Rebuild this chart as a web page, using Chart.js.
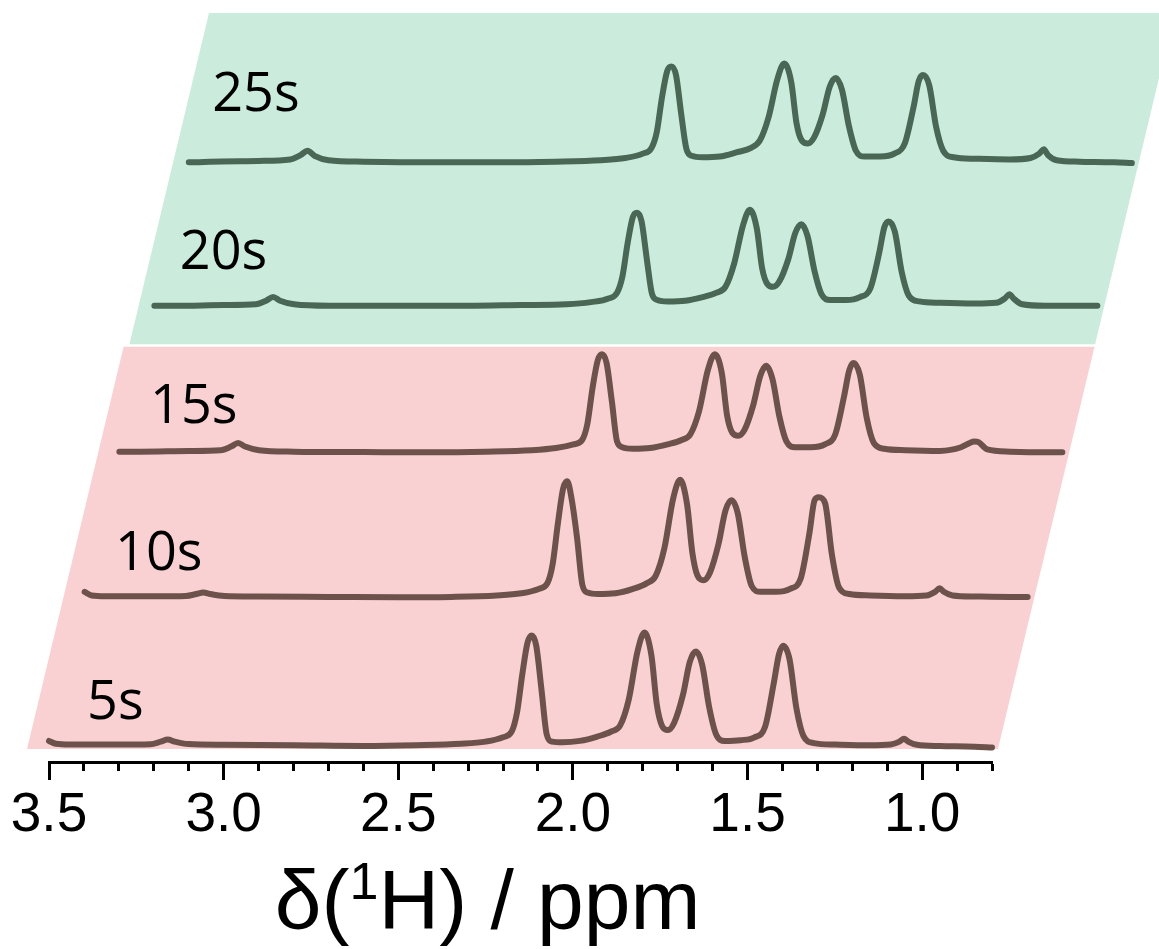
<!DOCTYPE html>
<html>
<head>
<meta charset="utf-8">
<script src="https://cdn.jsdelivr.net/npm/chart.js@4.4.1/dist/chart.umd.min.js"></script>
<style>
  html, body { margin: 0; padding: 0; background: #fff; }
  #wrap { width: 1159px; height: 949px; }
</style>
</head>
<body>
<div id="wrap"><canvas id="nmrChart" width="1159" height="949"></canvas></div>
<script>
// chemical shift grid (ppm), same for every spectrum
var ppm = [3.50, 3.48, 3.44, 3.30, 3.21, 3.18, 3.16, 3.14, 3.10, 3.00,
           2.80, 2.60, 2.45, 2.32, 2.25, 2.20, 2.175, 2.16, 2.145, 2.13,
           2.118, 2.105, 2.09, 2.075, 2.06, 2.03, 1.98, 1.93, 1.89, 1.865,
           1.84, 1.815, 1.795, 1.775, 1.76, 1.745, 1.728, 1.71, 1.685, 1.665,
           1.648, 1.63, 1.61, 1.59, 1.565, 1.52, 1.48, 1.45, 1.425, 1.41,
           1.398, 1.38, 1.36, 1.34, 1.31, 1.25, 1.15, 1.09, 1.065, 1.052,
           1.04, 1.015, 0.95, 0.85, 0.80];

// intensities (a.u.)
var s5 = [0.025, 0.005, 0.0, 0.0, 0.002, 0.02, 0.035, 0.02, 0.003, -0.002,
          -0.005, -0.01, -0.005, 0.005, 0.02, 0.05, 0.09, 0.22, 0.48, 0.70,
          0.75, 0.68, 0.38, 0.07, 0.02, 0.015, 0.025, 0.055, 0.09, 0.13,
          0.31, 0.64, 0.77, 0.61, 0.28, 0.13, 0.10, 0.15, 0.34, 0.57,
          0.64, 0.55, 0.26, 0.07, 0.025, 0.03, 0.05, 0.12, 0.42, 0.62,
          0.68, 0.59, 0.25, 0.06, 0.01, 0.0, -0.005, 0.0, 0.02, 0.04,
          0.02, -0.002, -0.01, -0.015, -0.02];
var s10 = [0.03, 0.005, 0.0, 0.0, 0.002, 0.015, 0.025, 0.015, 0.002, -0.002,
           -0.005, -0.008, -0.005, 0.005, 0.02, 0.05, 0.09, 0.22, 0.50, 0.74,
           0.79, 0.66, 0.40, 0.08, 0.025, 0.015, 0.02, 0.05, 0.09, 0.14,
           0.33, 0.67, 0.80, 0.63, 0.30, 0.14, 0.11, 0.16, 0.36, 0.59,
           0.66, 0.57, 0.27, 0.07, 0.03, 0.03, 0.05, 0.12, 0.43, 0.66,
           0.68, 0.64, 0.28, 0.06, 0.015, 0.005, 0.0, 0.005, 0.03, 0.055,
           0.03, 0.005, -0.002, -0.005, -0.005];
var s15 = [0.0, 0.0, 0.0, 0.005, 0.01, 0.035, 0.06, 0.035, 0.01, 0.0,
           -0.003, -0.005, 0.0, 0.01, 0.025, 0.05, 0.08, 0.19, 0.44, 0.63,
           0.67, 0.61, 0.35, 0.07, 0.03, 0.02, 0.025, 0.05, 0.08, 0.12,
           0.28, 0.56, 0.67, 0.54, 0.25, 0.13, 0.11, 0.15, 0.32, 0.52,
           0.59, 0.50, 0.24, 0.07, 0.03, 0.03, 0.05, 0.12, 0.38, 0.56,
           0.61, 0.53, 0.23, 0.06, 0.02, 0.01, 0.005, 0.03, 0.06, 0.07,
           0.065, 0.015, 0.0, -0.005, -0.005];
var s20 = [0.0, 0.0, 0.0, 0.005, 0.01, 0.035, 0.06, 0.035, 0.01, 0.0,
           0.0, 0.0, 0.005, 0.01, 0.025, 0.05, 0.09, 0.20, 0.43, 0.61,
           0.64, 0.58, 0.32, 0.08, 0.04, 0.03, 0.035, 0.06, 0.09, 0.13,
           0.29, 0.55, 0.66, 0.53, 0.26, 0.15, 0.13, 0.17, 0.32, 0.50,
           0.56, 0.48, 0.24, 0.08, 0.04, 0.04, 0.06, 0.12, 0.36, 0.54,
           0.58, 0.51, 0.23, 0.07, 0.03, 0.02, 0.015, 0.02, 0.05, 0.08,
           0.05, 0.01, 0.0, 0.0, 0.0];
var s25 = [0.0, 0.0, 0.005, 0.01, 0.02, 0.05, 0.08, 0.045, 0.015, 0.005,
           0.0, 0.0, 0.005, 0.015, 0.03, 0.06, 0.10, 0.21, 0.45, 0.63,
           0.66, 0.60, 0.33, 0.09, 0.045, 0.035, 0.04, 0.07, 0.10, 0.15,
           0.31, 0.57, 0.68, 0.55, 0.27, 0.15, 0.13, 0.17, 0.33, 0.52,
           0.58, 0.50, 0.25, 0.08, 0.04, 0.04, 0.06, 0.13, 0.38, 0.56,
           0.60, 0.53, 0.24, 0.08, 0.035, 0.025, 0.02, 0.03, 0.06, 0.09,
           0.05, 0.015, 0.005, 0.0, -0.005];

var traceLabels = ['5s', '10s', '15s', '20s', '25s'];
var majorTicks = [3.5, 3.0, 2.5, 2.0, 1.5, 1.0];

var spectra = [s5, s10, s15, s20, s25];

// stacking: each trace lifted by 'stack' units and slid 0.1 ppm per unit
var stack = [0, 1.02, 2.014, 3.017, 4.003];
var SKEW = 0.1;
var lineColors = ['#6c524b', '#6c524b', '#6c524b', '#4a6654', '#4a6654'];
var labelAt = [[3.391, 0.175], [3.413, 0.182], [3.412, 0.195], [3.427, 0.254], [3.433, 0.35]];

var panels = [
    {color: '#f9d1d2', y0: -0.03, y1: 2.736, left: 3.56, right: 0.78},
    {color: '#cbecdc', y0: 2.752, y1: 5.03, left: 3.545, right: 0.78}
];

var datasets = spectra.map(function (s, i) {
    return {
        label: traceLabels[i],
        data: ppm.map(function (p, j) {
            return {x: p - SKEW * stack[i], y: s[j] + stack[i]};
        }),
        borderColor: lineColors[i],
        borderWidth: 6,
        borderCapStyle: 'round',
        borderJoinStyle: 'round',
        pointRadius: 0,
        cubicInterpolationMode: 'monotone',
        clip: false
    };
});

// slanted coloured panels behind the traces
var panelPlugin = {
    id: 'panels',
    beforeDatasetsDraw: function (chart) {
        var c = chart.ctx, xs = chart.scales.x, ys = chart.scales.y;
        panels.forEach(function (p) {
            c.save();
            c.fillStyle = p.color;
            c.beginPath();
            c.moveTo(xs.getPixelForValue(p.left - SKEW * p.y0), ys.getPixelForValue(p.y0));
            c.lineTo(xs.getPixelForValue(p.right - SKEW * p.y0), ys.getPixelForValue(p.y0));
            c.lineTo(xs.getPixelForValue(p.right - SKEW * p.y1), ys.getPixelForValue(p.y1));
            c.lineTo(xs.getPixelForValue(p.left - SKEW * p.y1), ys.getPixelForValue(p.y1));
            c.closePath();
            c.fill();
            c.restore();
        });
    }
};

// time labels next to each trace, and the axis title with a real superscript
var labelPlugin = {
    id: 'traceLabels',
    afterDraw: function (chart) {
        var c = chart.ctx, xs = chart.scales.x, ys = chart.scales.y;
        c.save();
        c.font = '54px "Open Sans"';
        c.fillStyle = '#000';
        c.textAlign = 'left';
        c.textBaseline = 'alphabetic';
        traceLabels.forEach(function (t, i) {
            var px = xs.getPixelForValue(labelAt[i][0] - SKEW * stack[i]);
            var py = ys.getPixelForValue(stack[i] + labelAt[i][1]);
            c.fillText(t, px, py);
        });

        var big = '84px "Liberation Sans", Arial', small = '52px "Liberation Sans", Arial';
        var a = 'δ(', b = '1', d = 'H) / ppm';
        c.font = big; var wa = c.measureText(a).width, wd = c.measureText(d).width;
        c.font = small; var wb = c.measureText(b).width;
        var x0 = xs.getPixelForValue(2.244) - (wa + wb + wd) / 2;
        var base = chart.height - 20;
        c.font = big; c.fillText(a, x0, base);
        c.font = small; c.fillText(b, x0 + wa, base - 30);
        c.font = big; c.fillText(d, x0 + wa + wb, base);
        c.restore();
    }
};

function isMajor(v) {
    return majorTicks.some(function (t) { return Math.abs(t - v) < 1e-6; });
}

var ctx = document.getElementById('nmrChart').getContext('2d');
var nmrChart = new Chart(ctx, {
    type: 'line',
    data: {datasets: datasets},
    options: {
        responsive: false,
        animation: false,
        layout: {padding: {left: 49, right: 167, top: 13, bottom: 97}},
        plugins: {legend: {display: false}, tooltip: {enabled: false}},
        scales: {
            x: {
                type: 'linear',
                reverse: true,
                min: 0.8,
                max: 3.5,
                border: {display: true, color: '#000', width: 3},
                grid: {
                    drawOnChartArea: false,
                    drawTicks: true,
                    tickLength: 18,
                    tickColor: '#000',
                    tickWidth: 3,
                    tickBorderDash: function (c) {
                        return (c.tick && isMajor(c.tick.value)) ? [] : [7, 100];
                    }
                },
                ticks: {
                    stepSize: 0.1,
                    autoSkip: false,
                    maxRotation: 0,
                    minRotation: 0,
                    color: '#000',
                    padding: 3,
                    font: {family: '"Liberation Sans", Arial', size: 55},
                    callback: function (v) { return isMajor(v) ? v.toFixed(1) : ''; }
                }
            },
            y: {
                type: 'linear',
                display: false,
                min: -0.12,
                max: 5.03
            }
        }
    },
    plugins: [panelPlugin, labelPlugin]
});
</script>
</body>
</html>
